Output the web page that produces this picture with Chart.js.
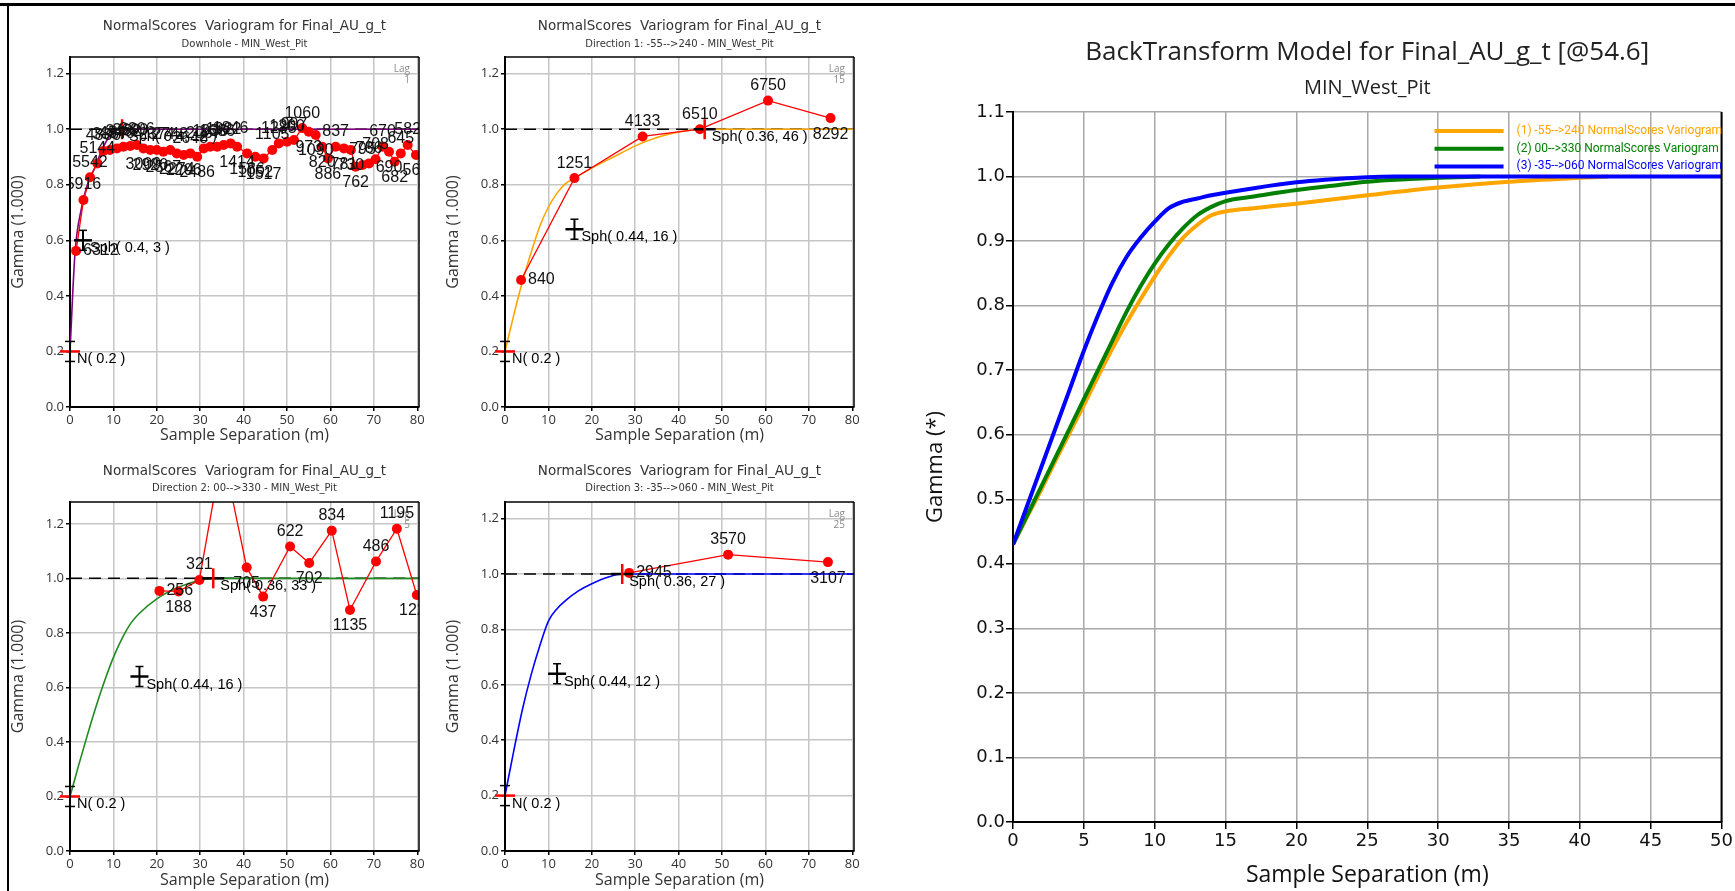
<!DOCTYPE html>
<html>
<head>
<meta charset="utf-8">
<title>Variograms - Final_AU_g_t</title>
<script src="https://cdn.jsdelivr.net/npm/chart.js@4.4.1/dist/chart.umd.min.js"></script>
<style>
  body { margin: 0; width: 1735px; height: 891px; background: #fff; position: relative; overflow: hidden; }
  canvas { position: absolute; }
  .rule { position: absolute; background: #000; }
</style>
</head>
<body>
<div class="rule" style="left:0;top:3px;width:1735px;height:3px"></div>
<div class="rule" style="left:7px;top:3px;width:2px;height:888px"></div>
<script>
const varTitle = 'NormalScores  Variogram for Final_AU_g_t';

// Downhole, lag 1
const dhLag = [1.4, 3.1, 4.6, 6.3, 7.7, 9.2, 10.8, 12.3, 13.9, 15.4, 16.9, 18.5, 20.0, 21.5, 23.1, 24.6, 26.2, 27.7, 29.3, 30.8,
  32.3, 33.9, 35.4, 37.0, 38.5, 40.8, 42.7, 44.6, 46.6, 48.1, 50.0, 51.6, 53.5, 55.0, 56.6, 58.1, 59.4, 61.2, 63.1, 64.7,
  65.8, 67.4, 68.9, 70.4, 72.0, 73.5, 74.8, 76.2, 77.8, 79.7];
const dhGamma = [0.562, 0.745, 0.827, 0.877, 0.922, 0.925, 0.931, 0.937, 0.940, 0.943, 0.931, 0.925, 0.925, 0.919, 0.925, 0.913, 0.907, 0.913, 0.901, 0.931,
  0.937, 0.937, 0.943, 0.949, 0.937, 0.913, 0.901, 0.895, 0.925, 0.949, 0.955, 0.961, 1.004, 0.991, 0.979, 0.937, 0.895, 0.937, 0.931, 0.925,
  0.865, 0.871, 0.877, 0.892, 0.937, 0.919, 0.883, 0.913, 0.943, 0.907];
const dhPairs = [6312, 5916, 5542, 5144, 4830, 3867, 4540, 3432, 3690, 3306, 3009, 2920, 2374, 2567, 2748, 2274, 2206, 2648, 2486, 2067,
  1936, 1686, 1922, 1846, 1414, 1586, 1052, 1517, 1105, 1285, 1200, 997, 1060, 973, 1090, 820, 886, 837, 781, 730,
  762, 795, 786, 708, 670, 690, 682, 645, 582, 561];
const dhModelX = [0, 1.15, 2.7, 3.85, 5.8, 7.7, 10, 12, 80.4];
const dhModelY = [0.2, 0.554, 0.72, 0.793, 0.865, 0.937, 0.991, 1.0, 1.0];
const dhNugget = 0.2;
const dhSills = [0.4, 0.4];
const dhRanges = [3, 12];

// Direction 1: -55-->240, lag 15
const d1Lag = [3.7, 16.0, 31.7, 44.9, 60.6, 75.0];
const d1Gamma = [0.457, 0.824, 0.974, 1.0, 1.103, 1.040];
const d1Pairs = [840, 1251, 4133, 6510, 6750, 8292];
const d1ModelX = [0, 2, 4, 6, 8, 10, 12, 14, 16, 20, 25, 30, 35, 40, 46, 80.4];
const d1ModelY = [0.2, 0.33, 0.45, 0.555, 0.65, 0.72, 0.77, 0.805, 0.824, 0.86, 0.90, 0.94, 0.97, 0.99, 1.0, 1.0];
const d1Nugget = 0.2;
const d1Sills = [0.44, 0.36];
const d1Ranges = [16, 46];

// Direction 2: 00-->330, lag 5
const d2Lag = [20.6, 25.0, 29.8, 35.1, 40.7, 44.5, 50.7, 55.1, 60.3, 64.5, 70.5, 75.3, 79.9];
const d2Gamma = [0.954, 0.952, 0.994, 1.47, 1.04, 0.933, 1.117, 1.056, 1.175, 0.884, 1.062, 1.182, 0.939];
const d2Pairs = [256, 188, 321, 412, 705, 437, 622, 702, 834, 1135, 486, 1195, 1227];
const d2ModelX = [0, 2, 4, 6, 8, 10, 12, 14, 16, 20, 25, 30, 33, 80.4];
const d2ModelY = [0.2, 0.315, 0.425, 0.53, 0.625, 0.71, 0.78, 0.835, 0.872, 0.925, 0.967, 0.994, 1.0, 1.0];
const d2Nugget = 0.2;
const d2Sills = [0.44, 0.36];
const d2Ranges = [16, 33];

// Direction 3: -35-->060, lag 25
const d3Lag = [28.6, 51.4, 74.4];
const d3Gamma = [1.004, 1.070, 1.043];
const d3Pairs = [2945, 3570, 3107];
const d3ModelX = [0, 2, 4, 6, 8, 10, 12, 14, 17, 20, 24, 27, 80.4];
const d3ModelY = [0.2, 0.36, 0.51, 0.635, 0.74, 0.83, 0.875, 0.905, 0.94, 0.965, 0.99, 1.0, 1.0];
const d3Nugget = 0.2;
const d3Sills = [0.44, 0.36];
const d3Ranges = [12, 27];

// BackTransform model
const btNames = ['(1) -55-->240 NormalScores Variogram', '(2) 00-->330 NormalScores Variogram', '(3) -35-->060 NormalScores Variogram'];
const btSep1 = [0, 1, 2, 3, 4, 5, 6, 7, 8, 9, 10, 11, 12, 13, 14, 15, 17, 20, 25, 30, 35, 40, 42];
const btGamma1 = [0.43, 0.473, 0.515, 0.56, 0.603, 0.646, 0.69, 0.733, 0.773, 0.81, 0.845, 0.877, 0.905, 0.925, 0.94, 0.946, 0.951, 0.958, 0.971, 0.983, 0.992, 0.998, 1.0];
const btSep2 = [0, 1, 2, 3, 4, 5, 6, 7, 8, 9, 10, 11, 12, 13, 14, 15, 17, 20, 23, 25, 28, 30, 33];
const btGamma2 = [0.43, 0.475, 0.52, 0.565, 0.61, 0.655, 0.70, 0.745, 0.79, 0.83, 0.865, 0.895, 0.92, 0.94, 0.953, 0.962, 0.969, 0.979, 0.987, 0.992, 0.996, 0.998, 1.0];
const btSep3 = [0, 1, 2, 3, 4, 5, 6, 7, 8, 9, 10, 11, 12, 13, 14, 15, 17, 20, 22, 25, 27, 50];
const btGamma3 = [0.43, 0.49, 0.55, 0.61, 0.67, 0.73, 0.785, 0.835, 0.875, 0.905, 0.93, 0.951, 0.961, 0.966, 0.971, 0.975, 0.982, 0.991, 0.995, 0.999, 1.0, 1.0];

Chart.defaults.font.family = "'Open Sans', 'DejaVu Sans', sans-serif";

const pts = (xs, ys) => xs.map((x, i) => ({ x: x, y: ys[i] }));

function makeCanvas(box) {
  const c = document.createElement('canvas');
  c.width = box.w;
  c.height = box.h;
  c.style.left = box.x + 'px';
  c.style.top = box.y + 'px';
  document.body.appendChild(c);
  return c;
}

// paddings so title, subtitle and plot top land where they should
function headPads(boxY, tY, tSize, sY, sSize, areaT) {
  const tLh = tSize * 1.2, sLh = sSize * 1.2;
  const tTop = tY - boxY - tLh / 2;
  const tEnd = tTop + tLh + 2;
  const sTop = sY - boxY - sLh / 2 - tEnd;
  const sEnd = tEnd + sTop + sLh;
  return { title: { top: tTop, bottom: 2 }, sub: { top: sTop, bottom: areaT - boxY - sEnd } };
}

function seg(ctx, color, w, x1, y1, x2, y2) {
  ctx.strokeStyle = color;
  ctx.lineWidth = w;
  ctx.beginPath();
  ctx.moveTo(x1, y1);
  ctx.lineTo(x2, y2);
  ctx.stroke();
}

function errBar(ctx, x, y, half, cap) {
  seg(ctx, '#000', 2, x, y - half, x, y + half);
  seg(ctx, '#000', 1.5, x - cap, y - half, x + cap, y - half);
  seg(ctx, '#000', 1.5, x - cap, y + half, x + cap, y + half);
}

// frame, nugget/structure marks, lag note and pair counts
function varioPlugin(p) {
  return {
    id: 'vario',
    afterDatasetsDraw(chart) {
      const { ctx, chartArea: a, scales: { x, y } } = chart;
      ctx.save();
      seg(ctx, '#000', 1.5, a.left, a.top, a.right, a.top);
      seg(ctx, '#000', 1.5, a.right, a.top, a.right, a.bottom);

      ctx.textBaseline = 'middle';
      ctx.textAlign = 'right';
      ctx.fillStyle = '#8a8a8a';
      ctx.font = "10px 'Open Sans'";
      ctx.fillText('Lag', a.right - 9, a.top + 12);
      ctx.fillText(String(p.lagStep), a.right - 9, a.top + 23);

      const nx = x.getPixelForValue(0), ny = y.getPixelForValue(p.nugget);
      seg(ctx, '#ff0000', 2.5, nx - 10, ny, nx + 10, ny);
      errBar(ctx, nx, ny, 10, 5);
      ctx.textAlign = 'left';
      ctx.fillStyle = '#000';
      ctx.font = "14.5px 'Liberation Sans'";
      ctx.fillText('N( ' + p.nugget + ' )', nx + 7, ny + 8);

      let cum = p.nugget;
      p.sills.forEach((c, i) => {
        cum += c;
        const sx = x.getPixelForValue(p.ranges[i]), sy = y.getPixelForValue(cum);
        if (i < p.sills.length - 1) {
          seg(ctx, '#000', 2.5, sx - 9, sy, sx + 9, sy);
          errBar(ctx, sx, sy, 10, 4);
        } else {
          seg(ctx, '#000', 2.5, sx - 11, sy, sx + 11, sy);
          seg(ctx, '#ff0000', 2.5, sx, sy - 10, sx, sy + 10);
        }
        ctx.fillText('Sph( ' + c + ', ' + p.ranges[i] + ' )', sx + 7, sy + 8);
      });

      ctx.beginPath();
      ctx.rect(a.left, a.top, a.right - a.left, a.bottom - a.top);
      ctx.clip();
      ctx.font = "16px 'Liberation Sans'";
      ctx.fillStyle = '#111';
      chart.getDatasetMeta(2).data.forEach((pt, i) => {
        const txt = String(p.pairs[i]);
        if (i === 0) {
          ctx.textAlign = 'left';
          ctx.fillText(txt, pt.x + 7, pt.y);
        } else if (p.gamma[i] >= p.gamma[i - 1]) {
          ctx.textAlign = 'center';
          ctx.fillText(txt, pt.x, pt.y - 15);
        } else {
          ctx.textAlign = 'center';
          ctx.fillText(txt, pt.x, pt.y + 16);
        }
      });
      ctx.restore();
    }
  };
}

function variogramChart(box, area, p) {
  const pads = headPads(box.y, p.titleY, 13.5, p.subY, 10, area.t);
  const total = p.nugget + p.sills.reduce((s, v) => s + v, 0);
  return new Chart(makeCanvas(box), {
    type: 'line',
    data: {
      datasets: [
        { data: [{ x: 0, y: total }, { x: p.xMax, y: total }], borderColor: '#000', borderWidth: 1.5,
          borderDash: [12, 7], pointRadius: 0, order: 3 },
        { data: pts(p.modelX, p.modelY), borderColor: p.color, borderWidth: 1.6, pointRadius: 0,
          cubicInterpolationMode: 'monotone', order: 2 },
        { data: pts(p.lag, p.gamma), borderColor: '#ff0000', borderWidth: 1.3, pointRadius: 5,
          pointBackgroundColor: '#ff0000', pointBorderWidth: 0, order: 1 }
      ]
    },
    options: {
      responsive: false,
      animation: false,
      events: [],
      layout: { padding: { left: 0, top: 0, bottom: 0, right: box.x + box.w - area.r } },
      plugins: {
        legend: { display: false },
        tooltip: { enabled: false },
        title: { display: true, text: varTitle, fullSize: false, color: '#333',
                 font: { family: "'DejaVu Sans', sans-serif", size: 13.5, weight: 'normal' }, padding: pads.title },
        subtitle: { display: true, text: p.sub, fullSize: false, color: '#333',
                    font: { family: "'DejaVu Sans', sans-serif", size: 10 }, padding: pads.sub }
      },
      scales: {
        x: {
          type: 'linear', min: 0, max: p.xMax,
          afterFit: s => { s.height = box.y + box.h - area.b; },
          ticks: { stepSize: 10, includeBounds: false, padding: 1, color: '#333', font: { size: 13 } },
          grid: { color: '#c6c6c6', lineWidth: 1.5, tickLength: 4, tickColor: '#000' },
          border: { color: '#000', width: 2 },
          title: { display: true, text: 'Sample Separation (m)', color: '#333', font: { size: 16 }, padding: { top: 0, bottom: p.xTitlePad } }
        },
        y: {
          min: 0, max: p.yMax,
          afterFit: s => { s.width = area.l - box.x; },
          ticks: { stepSize: 0.2, includeBounds: false, padding: 2, color: '#333', font: { size: 13 }, callback: v => v.toFixed(1) },
          grid: { color: '#c6c6c6', lineWidth: 1.5, tickLength: 4, tickColor: '#000' },
          border: { color: '#000', width: 2 },
          title: { display: true, text: 'Gamma (1.000)', color: '#333', font: { size: 16 }, padding: { top: p.yTitlePad, bottom: 0 } }
        }
      }
    },
    plugins: [varioPlugin(p)]
  });
}

variogramChart({ x: 9, y: 6, w: 431, h: 439 }, { l: 70, r: 419, t: 57, b: 407 }, {
  sub: 'Downhole - MIN_West_Pit', titleY: 26, subY: 44, xTitlePad: 0, yTitlePad: 0,
  lag: dhLag, gamma: dhGamma, pairs: dhPairs, modelX: dhModelX, modelY: dhModelY, color: '#800080',
  nugget: dhNugget, sills: dhSills, ranges: dhRanges, lagStep: 1, xMax: 80.4, yMax: 1.26
});
variogramChart({ x: 440, y: 6, w: 440, h: 439 }, { l: 505, r: 854, t: 57, b: 407 }, {
  sub: 'Direction 1: -55-->240 - MIN_West_Pit', titleY: 26, subY: 44, xTitlePad: 0, yTitlePad: 4,
  lag: d1Lag, gamma: d1Gamma, pairs: d1Pairs, modelX: d1ModelX, modelY: d1ModelY, color: '#ffa500',
  nugget: d1Nugget, sills: d1Sills, ranges: d1Ranges, lagStep: 15, xMax: 80.4, yMax: 1.26
});
variogramChart({ x: 9, y: 445, w: 431, h: 446 }, { l: 70, r: 419, t: 502, b: 851 }, {
  sub: 'Direction 2: 00-->330 - MIN_West_Pit', titleY: 471, subY: 488, xTitlePad: 1, yTitlePad: 0,
  lag: d2Lag, gamma: d2Gamma, pairs: d2Pairs, modelX: d2ModelX, modelY: d2ModelY, color: '#1f8a1f',
  nugget: d2Nugget, sills: d2Sills, ranges: d2Ranges, lagStep: 5, xMax: 80.4, yMax: 1.28
});
variogramChart({ x: 440, y: 445, w: 440, h: 446 }, { l: 505, r: 854, t: 502, b: 851 }, {
  sub: 'Direction 3: -35-->060 - MIN_West_Pit', titleY: 471, subY: 488, xTitlePad: 1, yTitlePad: 4,
  lag: d3Lag, gamma: d3Gamma, pairs: d3Pairs, modelX: d3ModelX, modelY: d3ModelY, color: '#0000ff',
  nugget: d3Nugget, sills: d3Sills, ranges: d3Ranges, lagStep: 25, xMax: 80.4, yMax: 1.26
});

// Back-transformed model chart
const btBox = { x: 880, y: 6, w: 855, h: 885 };
const btArea = { l: 1013, r: 1722, t: 112, b: 822 };
const btPads = headPads(btBox.y, 53, 26, 88, 20, btArea.t);

const btPlugin = {
  id: 'btFrame',
  afterDraw(chart) {
    const { ctx, chartArea: a } = chart;
    ctx.save();
    seg(ctx, '#000', 2, a.right, a.top, a.right, a.bottom);
    ctx.textAlign = 'left';
    ctx.textBaseline = 'middle';
    ctx.font = "12px Roboto";
    chart.data.datasets.forEach((ds, i) => {
      const ly = a.top + 19 + i * 17.7;
      seg(ctx, ds.borderColor, 4, a.right - 287, ly, a.right - 218, ly);
      ctx.fillStyle = ds.borderColor;
      ctx.fillText(ds.label, a.right - 205, ly);
    });
    ctx.restore();
  }
};

new Chart(makeCanvas(btBox), {
  type: 'line',
  data: {
    datasets: [
      { label: btNames[0], data: pts(btSep1, btGamma1), borderColor: '#ffa500', borderWidth: 4, pointRadius: 0, cubicInterpolationMode: 'monotone', order: 3 },
      { label: btNames[1], data: pts(btSep2, btGamma2), borderColor: '#008000', borderWidth: 4, pointRadius: 0, cubicInterpolationMode: 'monotone', order: 2 },
      { label: btNames[2], data: pts(btSep3, btGamma3), borderColor: '#0000ff', borderWidth: 4, pointRadius: 0, cubicInterpolationMode: 'monotone', order: 1 }
    ]
  },
  options: {
    responsive: false,
    animation: false,
    events: [],
    layout: { padding: { left: 0, top: 0, bottom: 0, right: btBox.x + btBox.w - btArea.r } },
    plugins: {
      legend: { display: false },
      tooltip: { enabled: false },
      title: { display: true, text: 'BackTransform Model for Final_AU_g_t [@54.6]', fullSize: false, color: '#222', font: { size: 26, weight: 'normal' }, padding: btPads.title },
      subtitle: { display: true, text: 'MIN_West_Pit', fullSize: false, color: '#222', font: { size: 20 }, padding: btPads.sub }
    },
    scales: {
      x: {
        type: 'linear', min: 0, max: 50,
        afterFit: s => { s.height = btBox.y + btBox.h - btArea.b; },
        ticks: { stepSize: 5, padding: 2, color: '#111', font: { family: "'DejaVu Sans', sans-serif", size: 18 } },
        grid: { color: '#a8a8a8', lineWidth: 1.5, tickLength: 7, tickColor: '#000' },
        border: { color: '#000', width: 2 },
        title: { display: true, text: 'Sample Separation (m)', color: '#111', font: { size: 23 }, padding: { top: 0, bottom: 2.2 } }
      },
      y: {
        min: 0, max: 1.1,
        afterFit: s => { s.width = btArea.l - btBox.x; },
        ticks: { stepSize: 0.1, maxTicksLimit: 20, padding: 1, color: '#111', font: { family: "'DejaVu Sans', sans-serif", size: 18 }, callback: v => v.toFixed(1) },
        grid: { color: '#a8a8a8', lineWidth: 1.5, tickLength: 7, tickColor: '#000' },
        border: { color: '#000', width: 2 },
        title: { display: true, text: 'Gamma (*)', color: '#111', font: { size: 22 }, padding: { top: 42.8, bottom: 0 } }
      }
    }
  },
  plugins: [btPlugin]
});
</script>
</body>
</html>
